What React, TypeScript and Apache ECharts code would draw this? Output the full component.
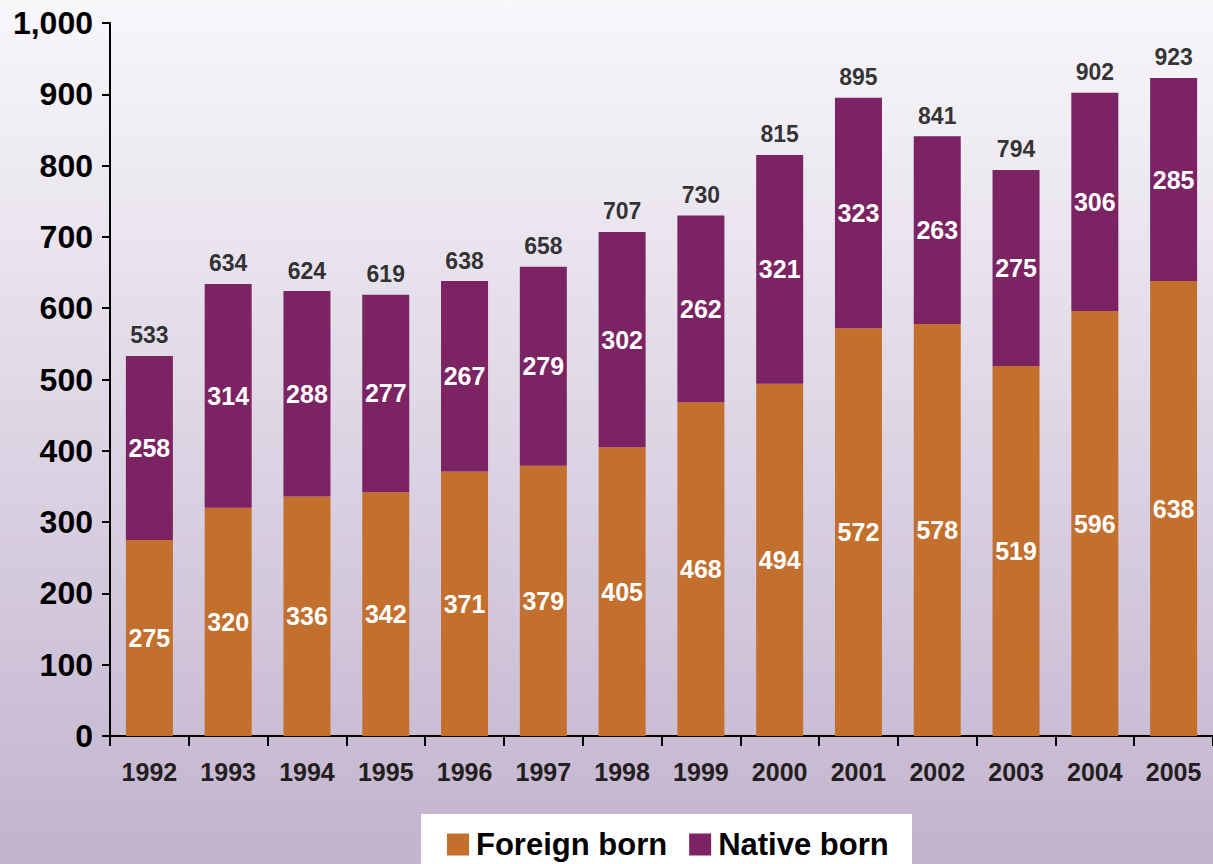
import React, { useEffect, useRef } from "react";
import * as echarts from "echarts";

const years = ["1992","1993","1994","1995","1996","1997","1998","1999","2000","2001","2002","2003","2004","2005"];
const foreignBorn = [275,320,336,342,371,379,405,468,494,572,578,519,596,638];
const nativeBorn = [258,314,288,277,267,279,302,262,321,323,263,275,306,285];
const totals = [533,634,624,619,638,658,707,730,815,895,841,794,902,923];

const FONT = "'Liberation Sans', Arial, sans-serif";

export default function App() {
  const ref = useRef<HTMLDivElement>(null);
  useEffect(() => {
    if (!ref.current) return;
    const chart = echarts.init(ref.current, null, { renderer: "svg" });
    chart.setOption({
      animation: false,
      backgroundColor: new echarts.graphic.LinearGradient(0, 0, 0, 1, [
        { offset: 0, color: "#f8f7fa" },
        { offset: 1, color: "#c2b3ce" },
      ]),
      grid: { left: 110, top: 23, width: 1113, bottom: 128, containLabel: false },
      graphic: [
        { type: "rect", left: 421, top: 814, shape: { width: 491, height: 60 }, style: { fill: "#ffffff" } },
      ],
      legend: {
        left: 442,
        top: 824,
        itemWidth: 22,
        itemHeight: 22,
        itemGap: 22,
        icon: "rect",
        data: ["Foreign born", "Native born"],
        textStyle: { fontFamily: FONT, fontWeight: "bold", fontSize: 31, color: "#000", padding: [0, 0, 0, 2] },
      },
      xAxis: {
        type: "category",
        data: years,
        boundaryGap: true,
        axisLine: { lineStyle: { color: "#000", width: 2 } },
        axisTick: { show: true, length: 10, lineStyle: { color: "#000", width: 2 }, alignWithLabel: false },
        axisLabel: { interval: 0, margin: 23, fontFamily: FONT, fontWeight: "bold", fontSize: 25, color: "#231f20" },
      },
      yAxis: {
        type: "value",
        min: 0,
        max: 1000,
        interval: 100,
        splitLine: { show: false },
        axisLine: { show: true, lineStyle: { color: "#000", width: 2 } },
        axisTick: { show: true, length: 8, lineStyle: { color: "#000", width: 2 } },
        axisLabel: {
          margin: 17,
          fontFamily: FONT,
          fontWeight: "bold",
          fontSize: 32,
          color: "#000",
          formatter: (v: number) => v.toLocaleString("en-US"),
        },
      },
      series: [
        {
          name: "Foreign born",
          type: "bar",
          stack: "total",
          barWidth: 47,
          data: foreignBorn,
          itemStyle: { color: "#c3702f" },
          label: { show: true, position: "inside", color: "#fff", fontFamily: FONT, fontWeight: "bold", fontSize: 25 },
        },
        {
          name: "Native born",
          type: "bar",
          stack: "total",
          barWidth: 47,
          data: nativeBorn,
          itemStyle: { color: "#7b2363" },
          label: { show: true, position: "inside", color: "#fff", fontFamily: FONT, fontWeight: "bold", fontSize: 25 },
        },
        {
          name: "Total",
          type: "scatter",
          data: totals,
          symbolSize: 0,
          silent: true,
          label: { show: true, position: "top", distance: 9, color: "#000", fontFamily: FONT, fontWeight: "bold", fontSize: 23 },
        },
      ],
    });
    return () => chart.dispose();
  }, []);
  return <div ref={ref} style={{ position: "fixed", left: 0, top: 0, width: 1213, height: 864 }} />;
}
